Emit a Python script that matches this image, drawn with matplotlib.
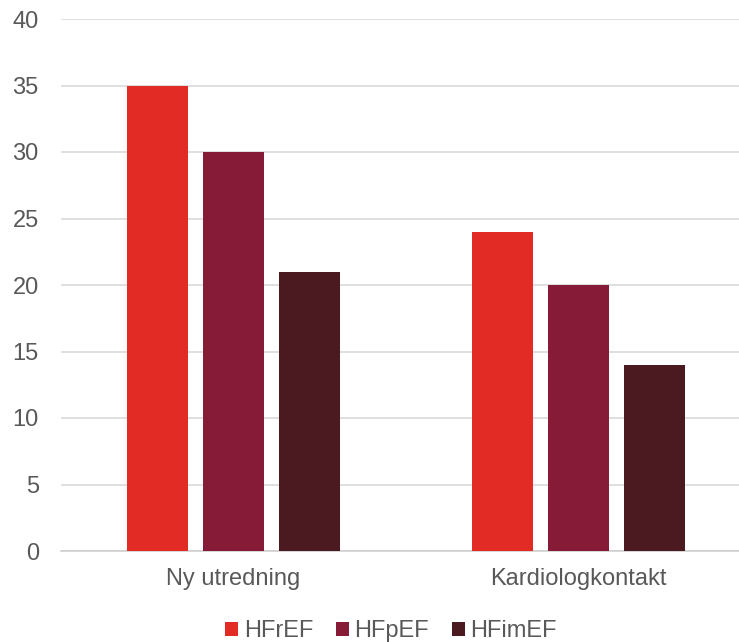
import matplotlib
matplotlib.use('Agg')
import matplotlib.pyplot as plt
import numpy as np

categories = ['Ny utredning', 'Kardiologkontakt']
series = ['HFrEF', 'HFpEF', 'HFimEF']
hfref = [35, 24]
hfpef = [30, 20]
hfimef = [21, 14]
colors = ['#E32B26', '#851B37', '#4B1A21']

plt.rcParams['font.family'] = ['Liberation Sans', 'DejaVu Sans']
txt = '#595959'

fig = plt.figure(figsize=(7.39, 6.42), dpi=100)
ax = fig.add_axes([61/739, 1-551/642, 1-61/739, (551-19)/642])

x = np.arange(len(categories))
width = 0.177
step = 0.22
for i, (vals, name) in enumerate(zip([hfref, hfpef, hfimef], series)):
    ax.bar(x + (i-1)*step, vals, width, color=colors[i], label=name, zorder=3)

ax.set_xlim(-0.5, 1.465)
ax.set_ylim(0, 40)
ax.set_yticks(range(0, 41, 5))
ax.set_xticks(x)
ax.set_xticklabels(categories)
ax.grid(axis='y', color='#D9D9D9', linewidth=1.2, zorder=0)
ax.set_axisbelow(True)
for s in ['top', 'right', 'left']:
    ax.spines[s].set_visible(False)
ax.spines['bottom'].set_color('#D0D0D0')
ax.spines['bottom'].set_linewidth(1.2)
ax.tick_params(axis='both', length=0, labelsize=17, labelcolor=txt)
ax.tick_params(axis='y', pad=16)
ax.tick_params(axis='x', pad=12)

handles, labels = ax.get_legend_handles_labels()
fig.legend(handles, labels, loc='center', bbox_to_anchor=(391/739, 1-631/642),
           ncol=3, frameon=False, fontsize=17, labelcolor=txt,
           handlelength=0.55, handleheight=0.55, handletextpad=0.25,
           columnspacing=0.95, borderpad=0)

fig.savefig('out.png', dpi=100)
